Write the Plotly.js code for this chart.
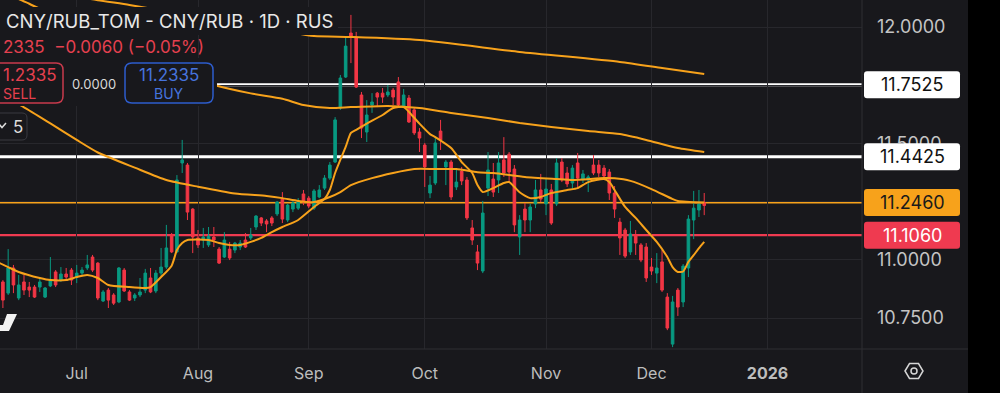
<!DOCTYPE html>
<html>
<head>
<meta charset="utf-8">
<script src="https://cdn.plot.ly/plotly-3.0.1.min.js"></script>
<style>
html,body{margin:0;padding:0;background:#18181c;}
#chart{width:1000px;height:393px;}
</style>
</head>
<body>
<div id="chart"></div>
<script>
// ---------- DATA ----------
const open = [10.905,10.857,10.965,10.836,10.905,10.883,10.883,10.883,10.840,10.888,
10.948,10.913,10.939,10.956,10.926,10.943,10.965,11.012,10.986,10.823,
10.870,10.849,10.819,10.956,10.862,10.836,10.849,10.870,10.922,10.866,
10.943,10.969,11.107,11.034,11.416,11.407,11.218,11.094,11.085,11.064,
11.098,11.046,11.012,11.046,11.042,11.055,11.085,11.094,11.141,11.180,
11.167,11.180,11.197,11.261,11.171,11.218,11.222,11.283,11.265,11.222,
11.270,11.308,11.351,11.420,11.652,11.785,11.974,11.957,11.708,11.549,
11.665,11.716,11.716,11.708,11.729,11.764,11.656,11.695,11.644,11.549,
11.493,11.287,11.330,11.553,11.399,11.420,11.313,11.381,11.343,11.137,
11.034,10.952,11.308,11.347,11.343,11.429,11.454,11.390,11.098,11.218,
11.171,11.240,11.300,11.240,11.300,11.240,11.420,11.373,11.330,11.416,
11.347,11.343,11.407,11.407,11.394,11.377,11.287,11.162,11.128,11.034,
11.107,11.064,11.055,10.969,10.943,10.991,10.840,10.638,10.870,10.819,
10.965,11.171,11.214,11.245];
const high = [10.913,11.046,10.978,10.935,10.935,10.905,10.892,10.922,10.883,11.012,
10.956,10.969,10.965,10.965,10.978,10.969,11.021,11.021,10.990,10.870,
10.879,10.857,10.969,10.965,10.870,10.857,10.922,10.961,10.965,10.956,
11.051,11.150,11.115,11.364,11.515,11.416,11.222,11.128,11.137,11.141,
11.141,11.055,11.119,11.077,11.077,11.085,11.115,11.137,11.192,11.184,
11.175,11.188,11.253,11.291,11.240,11.257,11.265,11.300,11.274,11.304,
11.321,11.364,11.420,11.613,11.794,11.953,12.052,11.979,11.721,11.686,
11.716,11.721,11.738,11.751,11.738,11.785,11.734,11.708,11.656,11.566,
11.502,11.360,11.523,11.601,11.429,11.429,11.394,11.399,11.356,11.171,
11.064,11.253,11.463,11.416,11.463,11.527,11.463,11.407,11.192,11.244,
11.240,11.343,11.369,11.351,11.326,11.437,11.437,11.399,11.407,11.459,
11.386,11.364,11.450,11.429,11.407,11.390,11.317,11.180,11.137,11.167,
11.128,11.072,11.072,11.008,11.029,11.042,10.857,10.845,10.879,10.982,
11.192,11.296,11.300,11.287];
const low = [10.793,10.849,10.857,10.827,10.849,10.840,10.836,10.862,10.836,10.883,
10.883,10.905,10.913,10.892,10.900,10.931,10.956,10.948,10.827,10.819,
10.793,10.806,10.814,10.862,10.823,10.823,10.840,10.857,10.857,10.857,
10.931,10.961,11.029,11.029,11.373,11.171,11.029,11.051,11.051,11.055,
11.055,10.982,11.008,10.999,11.029,11.042,11.051,11.085,11.128,11.145,
11.119,11.145,11.188,11.158,11.162,11.205,11.214,11.235,11.222,11.214,
11.265,11.300,11.343,11.416,11.644,11.781,11.845,11.738,11.523,11.506,
11.631,11.656,11.674,11.699,11.665,11.656,11.652,11.588,11.536,11.463,
11.313,11.265,11.321,11.472,11.321,11.257,11.300,11.321,11.171,11.064,
10.956,10.943,11.274,11.270,11.287,11.356,11.330,11.119,11.021,11.119,
11.119,11.222,11.248,11.192,11.150,11.231,11.334,11.313,11.300,11.308,
11.330,11.291,11.364,11.356,11.351,11.257,11.180,11.021,11.008,11.021,
11.021,10.990,10.905,10.935,10.900,10.862,10.698,10.625,10.759,10.797,
10.926,11.089,11.184,11.192];
const close = [10.827,10.965,10.892,10.892,10.870,10.870,10.840,10.905,10.879,10.913,
10.892,10.939,10.926,10.913,10.943,10.956,10.978,10.956,10.836,10.862,
10.827,10.814,10.965,10.866,10.827,10.849,10.862,10.943,10.862,10.943,
10.969,11.051,11.034,11.343,11.429,11.205,11.098,11.064,11.098,11.102,
11.085,10.986,11.085,11.008,11.072,11.072,11.055,11.107,11.188,11.158,
11.154,11.158,11.248,11.175,11.235,11.244,11.248,11.248,11.231,11.296,
11.300,11.351,11.407,11.601,11.781,11.918,11.957,11.742,11.566,11.622,
11.678,11.699,11.699,11.721,11.699,11.665,11.708,11.592,11.545,11.523,
11.399,11.321,11.502,11.515,11.420,11.270,11.334,11.339,11.180,11.085,
10.986,11.201,11.386,11.291,11.416,11.373,11.377,11.150,11.171,11.171,
11.227,11.300,11.261,11.304,11.158,11.416,11.343,11.326,11.394,11.351,
11.369,11.356,11.373,11.373,11.360,11.287,11.218,11.094,11.016,11.111,
11.072,10.999,10.922,10.952,10.965,10.870,10.707,10.819,10.797,10.973,
11.175,11.222,11.2395,11.2335];

// moving averages (bar index -> value)
const maFastIdx = [-1,1,3,7,9,12,14,16,18,20,24,27,28,30,32,33,34,35,39,41,43,45,47,49,51,53,55,56,59,61,62,63,65,66,67,69,72,74,76,78,79,81,82,85,87,89,90,91,93,95,96,97,98,100,102,104,107,109,111,114,115,116,118,120,122,124,126,127,128,129,130,131,132,133];
const maFast = [10.99,10.969,10.948,10.922,10.913,10.913,10.926,10.935,10.922,10.892,10.883,10.879,10.883,10.926,10.975,11.042,11.072,11.085,11.085,11.072,11.064,11.064,11.077,11.094,11.119,11.141,11.160,11.171,11.227,11.262,11.30,11.373,11.485,11.545,11.558,11.585,11.622,11.652,11.656,11.61,11.585,11.54,11.527,11.480,11.420,11.373,11.321,11.291,11.308,11.330,11.334,11.313,11.290,11.265,11.270,11.287,11.300,11.308,11.334,11.347,11.334,11.300,11.227,11.180,11.128,11.077,11.012,10.969,10.948,10.950,10.991,11.020,11.050,11.077];
const maMidIdx = [-1,4,9,14,18,25,31,37,44,50,53,56,59,62,64,66,70,74,78,82,86,90,93,99,105,108,114,116,119,123,127,128,133];
const maMid = [11.712,11.655,11.586,11.515,11.461,11.396,11.343,11.314,11.285,11.274,11.265,11.253,11.248,11.27,11.291,11.321,11.351,11.373,11.390,11.390,11.390,11.376,11.373,11.356,11.347,11.343,11.351,11.350,11.339,11.304,11.261,11.253,11.246];
const maSlowIdx = [0,3,5,13,20,28,35,40,47,53,57,62,66,73,79,85,92,98,104,111,117,122,128,133];
const maSlow = [12.15,12.12,12.10,12.01,11.93,11.85,11.786,11.751,11.715,11.692,11.665,11.652,11.656,11.661,11.652,11.631,11.609,11.588,11.571,11.553,11.540,11.515,11.480,11.463];
const maLongIdx = [0,12,18,24,34,43,53,59,66,79,98,117,125,133];
const maLong = [12.20,12.14,12.115,12.095,12.055,12.017,11.982,11.961,11.957,11.944,11.893,11.850,11.824,11.798];

// month labels at the first bar of each month
const monthIdx = [14,37,58,80,103,123,145];
const monthText = ['Jul','Aug','Sep','Oct','Nov','Dec','<b>2026</b>'];
const priceTicks = [10.75,11.0,11.25,11.5,11.75,12.0];
const priceTickText = ['10.7500','11.0000','','11.5000','','12.0000']; // 11.25 / 11.75 sit under level labels

// price levels drawn as horizontal lines with labels
const levels = [11.7525, 11.4425, 11.2460, 11.1060];
const levelText = ['11.7525','11.4425','11.2460','11.1060'];
const lastClose = '11.2335';
const change = '\u22120.0060 (\u22120.05%)';

// ---------- LAYOUT HELPERS ----------
const BG = '#18181c';
const GREEN = '#089981', RED = '#f23645', ORANGE = '#f7a21b';
const PW = 862, PH = 349;
const yRange = [10.617, 12.116];
const xRange = [-0.55, 162.92];
const X = px => px / PW;
const Y = py => (PH - py) / PH;
const priceToPy = p => PH - (p - yRange[0]) / (yRange[1] - yRange[0]) * PH;
const f = v => v.toFixed(5);
function roundRect(x0, y0, x1, y1, r) {
  return 'M' + f(X(x0 + r)) + ',' + f(Y(y0)) +
    ' L' + f(X(x1 - r)) + ',' + f(Y(y0)) +
    ' Q' + f(X(x1)) + ',' + f(Y(y0)) + ' ' + f(X(x1)) + ',' + f(Y(y0 + r)) +
    ' L' + f(X(x1)) + ',' + f(Y(y1 - r)) +
    ' Q' + f(X(x1)) + ',' + f(Y(y1)) + ' ' + f(X(x1 - r)) + ',' + f(Y(y1)) +
    ' L' + f(X(x0 + r)) + ',' + f(Y(y1)) +
    ' Q' + f(X(x0)) + ',' + f(Y(y1)) + ' ' + f(X(x0)) + ',' + f(Y(y1 - r)) +
    ' L' + f(X(x0)) + ',' + f(Y(y0 + r)) +
    ' Q' + f(X(x0)) + ',' + f(Y(y0)) + ' ' + f(X(x0 + r)) + ',' + f(Y(y0)) + ' Z';
}
function poly(pts) {
  return pts.map((p, i) => (i ? 'L' : 'M') + f(X(p[0])) + ',' + f(Y(p[1]))).join(' ') + ' Z';
}
function polyline(pts) {
  return pts.map((p, i) => (i ? 'L' : 'M') + f(X(p[0])) + ',' + f(Y(p[1]))).join(' ');
}

const barX = open.map((_, i) => i);

const maLine = {color: ORANGE, width: 2, shape: 'spline', smoothing: 0.6};
const traces = [
  {type: 'scatter', mode: 'lines', x: maLongIdx, y: maLong, line: maLine, hoverinfo: 'skip'},
  {type: 'scatter', mode: 'lines', x: maSlowIdx, y: maSlow, line: maLine, hoverinfo: 'skip'},
  {type: 'scatter', mode: 'lines', x: maMidIdx, y: maMid, line: maLine, hoverinfo: 'skip'},
  {type: 'candlestick', x: barX, open: open, high: high, low: low, close: close,
   increasing: {line: {color: GREEN, width: 1}, fillcolor: GREEN},
   decreasing: {line: {color: RED, width: 1}, fillcolor: RED},
   whiskerwidth: 0, hoverinfo: 'skip'},
  {type: 'scatter', mode: 'lines', x: maFastIdx, y: maFast, line: maLine, hoverinfo: 'skip'}
];

const levelColors = ['#ffffff', '#ffffff', ORANGE, '#ef3a50'];
const levelWidths = [3, 3, 2, 2.2];
const labelBg = ['#ffffff', '#ffffff', '#f7a21b', '#ef3a50'];
const labelFg = ['#111111', '#111111', '#1a1a1a', '#ffffff'];

const shapes = [];
levels.forEach((lv, i) => {
  shapes.push({type: 'line', xref: 'paper', yref: 'y', x0: 0, x1: 1, y0: lv, y1: lv,
    line: {color: levelColors[i], width: levelWidths[i]}, layer: 'below'});
});
// legend / trading panel background covers
shapes.push({type: 'rect', xref: 'paper', yref: 'paper', x0: X(-2), x1: X(338), y0: Y(35), y1: Y(7),
  fillcolor: BG, line: {width: 0}, layer: 'above'});
shapes.push({type: 'rect', xref: 'paper', yref: 'paper', x0: X(-2), x1: X(190), y0: Y(58), y1: Y(35),
  fillcolor: BG, line: {width: 0}, layer: 'above'});
shapes.push({type: 'rect', xref: 'paper', yref: 'paper', x0: X(-2), x1: X(217), y0: Y(106), y1: Y(58),
  fillcolor: BG, line: {width: 0}, layer: 'above'});
// SELL / BUY boxes
shapes.push({type: 'path', xref: 'paper', yref: 'paper', path: roundRect(-25, 63, 63, 103, 7),
  fillcolor: BG, line: {color: '#c83a4c', width: 1.5}, layer: 'above'});
shapes.push({type: 'path', xref: 'paper', yref: 'paper', path: roundRect(125, 63, 213, 103, 7),
  fillcolor: BG, line: {color: '#2d5ccc', width: 1.5}, layer: 'above'});
// collapsed indicators box
shapes.push({type: 'path', xref: 'paper', yref: 'paper', path: roundRect(-10, 113, 27, 140, 5),
  fillcolor: BG, line: {color: '#3a3a40', width: 1}, layer: 'above'});
shapes.push({type: 'path', xref: 'paper', yref: 'paper', path: polyline([[-2, 123], [2, 127.5], [6, 123]]),
  line: {color: '#dddddd', width: 1.5}, layer: 'above'});
// partial TradingView logo at lower left
shapes.push({type: 'path', xref: 'paper', yref: 'paper',
  path: poly([[7, 314], [17, 314], [9, 331], [0, 331], [0, 325], [3, 325]]),
  fillcolor: '#f2f2f2', line: {width: 0}, layer: 'above'});
// separators
shapes.push({type: 'line', xref: 'paper', yref: 'paper', x0: X(862), x1: X(862), y0: Y(0), y1: Y(393),
  line: {color: '#2e2e33', width: 1}, layer: 'above'});
shapes.push({type: 'line', xref: 'paper', yref: 'paper', x0: X(0), x1: X(968), y0: Y(349), y1: Y(349),
  line: {color: '#2e2e33', width: 1.2}, layer: 'above'});
// price label boxes on the axis
levels.forEach((lv, i) => {
  const cy = priceToPy(lv);
  shapes.push({type: 'path', xref: 'paper', yref: 'paper', path: roundRect(864, cy - 13.5, 960, cy + 13.5, 3),
    fillcolor: labelBg[i], line: {width: 0}, layer: 'above'});
});
// settings icon (hexagon + circle)
shapes.push({type: 'path', xref: 'paper', yref: 'paper',
  path: poly([[905, 371], [909.5, 363.5], [918.5, 363.5], [923, 371], [918.5, 378.5], [909.5, 378.5]]),
  line: {color: '#d6d6d6', width: 1.5}, layer: 'above'});
shapes.push({type: 'circle', xref: 'paper', yref: 'paper', x0: X(911), x1: X(917), y0: Y(374), y1: Y(368),
  line: {color: '#d6d6d6', width: 1.5}, layer: 'above'});
// black strip on the right
shapes.push({type: 'rect', xref: 'paper', yref: 'paper', x0: X(968), x1: X(1002), y0: Y(395), y1: Y(-2),
  fillcolor: '#000000', line: {width: 0}, layer: 'above'});

const FONT = 'Inter, "Noto Sans", Roboto, sans-serif';
const annotations = [
  {xref: 'paper', yref: 'paper', x: X(4), y: Y(21), xanchor: 'left', yanchor: 'middle', showarrow: false,
   text: 'CNY/RUB_TOM - CNY/RUB \u00b7 1D \u00b7 RUS', font: {family: FONT, size: 18.5, color: '#e8e8e8'}},
  {xref: 'paper', yref: 'paper', x: X(1), y: Y(47), xanchor: 'left', yanchor: 'middle', showarrow: false,
   text: lastClose.slice(3) + '\u00a0 ' + change, font: {family: FONT, size: 17, color: '#e5404f'}},
  {xref: 'paper', yref: 'paper', x: X(1), y: Y(75), xanchor: 'left', yanchor: 'middle', showarrow: false,
   text: lastClose.slice(1), font: {family: FONT, size: 17, color: '#e5404f'}},
  {xref: 'paper', yref: 'paper', x: X(19), y: Y(93), xanchor: 'center', yanchor: 'middle', showarrow: false,
   text: 'SELL', font: {family: FONT, size: 14, color: '#e5404f'}},
  {xref: 'paper', yref: 'paper', x: X(94), y: Y(84), xanchor: 'center', yanchor: 'middle', showarrow: false,
   text: '0.0000', font: {family: FONT, size: 13, color: '#d8d8d8'}},
  {xref: 'paper', yref: 'paper', x: X(169), y: Y(75), xanchor: 'center', yanchor: 'middle', showarrow: false,
   text: lastClose, font: {family: FONT, size: 17, color: '#4673dc'}},
  {xref: 'paper', yref: 'paper', x: X(169), y: Y(93), xanchor: 'center', yanchor: 'middle', showarrow: false,
   text: 'BUY', font: {family: FONT, size: 14, color: '#4673dc'}},
  {xref: 'paper', yref: 'paper', x: X(18), y: Y(127), xanchor: 'center', yanchor: 'middle', showarrow: false,
   text: '5', font: {family: FONT, size: 17, color: '#dddddd'}}
];
levels.forEach((lv, i) => {
  annotations.push({xref: 'paper', yref: 'y', x: X(912), y: lv, xanchor: 'center', yanchor: 'middle',
    showarrow: false, text: levelText[i], font: {family: FONT, size: 18, color: labelFg[i]}});
});

const layout = {
  width: 1000, height: 393,
  margin: {l: 0, r: 138, t: 0, b: 44, pad: 0},
  paper_bgcolor: BG, plot_bgcolor: BG,
  showlegend: false,
  dragmode: false,
  xaxis: {
    type: 'linear', range: xRange, rangeslider: {visible: false},
    tickmode: 'array', tickvals: monthIdx, ticktext: monthText,
    showgrid: true, gridcolor: '#27272c', gridwidth: 1,
    zeroline: false, showline: false, ticks: '', ticklabelstandoff: 13,
    tickfont: {family: FONT, size: 16, color: '#bdbdbd'}, fixedrange: true
  },
  yaxis: {
    side: 'right', range: yRange,
    tickmode: 'array', tickvals: priceTicks, ticktext: priceTickText,
    showgrid: true, gridcolor: '#27272c', gridwidth: 1,
    zeroline: false, showline: false, ticks: '', ticklabelstandoff: 14,
    tickfont: {family: FONT, size: 18, color: '#c4c4c4'}, fixedrange: true
  },
  shapes: shapes,
  annotations: annotations
};

Plotly.newPlot('chart', traces, layout, {displayModeBar: false, staticPlot: true});
</script>
</body>
</html>
